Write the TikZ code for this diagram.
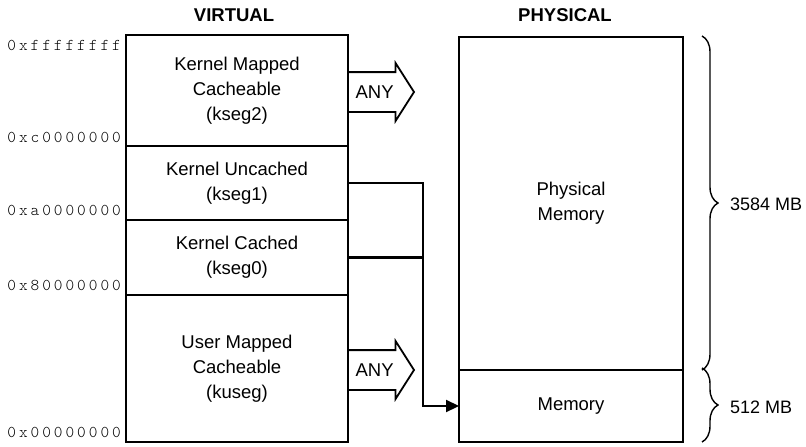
\documentclass[tikz,border=0pt]{standalone}
\usepackage{fontspec}
\setmainfont{Liberation Sans}
\newfontfamily\addrfont[LetterSpace=18]{Latin Modern Mono Light}
\usetikzlibrary{shapes.arrows,arrows.meta,decorations.pathreplacing}
\begin{document}
\begin{tikzpicture}[x=1pt,y=-1pt,
  txt/.style={font=\fontsize{18.5}{25}\selectfont, align=center},
  seg/.style={draw, line width=2pt, inner sep=0pt, outer sep=0pt, anchor=north west, txt},
  addr/.style={font=\addrfont\fontsize{16.5}{16.5}\selectfont, anchor=east, inner sep=0pt},
  anyarrow/.style={single arrow, draw, line width=1.8pt, txt, text height=13pt, text depth=0pt,
    inner ysep=12.5pt, inner xsep=5pt, single arrow head extend=9pt, single arrow head indent=0pt,
    single arrow tip angle=115, minimum height=66pt, anchor=tail, outer sep=0pt},
  conn/.style={line width=2.2pt},
  bracestyle/.style={decorate, decoration={brace, amplitude=16pt}, line width=1.4pt},
  title/.style={font=\bfseries\fontsize{18.5}{20}\selectfont}
]
\useasboundingbox (0,0) rectangle (806,447);
% titles
\node[title] (vt) at (234,15) {VIRTUAL};
\node[title] (pt) at (565,15) {PHYSICAL};
% virtual segments
\node[seg, minimum width=222pt, minimum height=111pt] (kseg2) at (126,35) {Kernel Mapped\\Cacheable\\(kseg2)};
\node[seg, minimum width=222pt, minimum height=74pt] (kseg1) at (126,146) {Kernel Uncached\\(kseg1)};
\node[seg, minimum width=222pt, minimum height=75pt] (kseg0) at (126,220) {Kernel Cached\\(kseg0)};
\node[seg, minimum width=222pt, minimum height=147pt] (kuseg) at (126,295) {User Mapped\\Cacheable\\(kuseg)};
% physical
\node[seg, minimum width=224pt, minimum height=333pt] (phys) at (459,37) {Physical\\Memory};
\node[seg, minimum width=224pt, minimum height=72pt] (mem) at (459,370) {Memory};
% addresses
\node[addr] (a1) at (121,45) {0xffffffff};
\node[addr] (a2) at (121,137) {0xc0000000};
\node[addr] (a3) at (121,210) {0xa0000000};
\node[addr] (a4) at (121,285) {0x80000000};
\node[addr] (a5) at (121,432) {0x00000000};
% ANY arrows
\node[anyarrow] (any1) at (kseg2.east |- 0,92) {ANY};
\node[anyarrow] (any2) at (kuseg.east |- 0,370) {ANY};
% connectors
\coordinate (bend) at (423,406);
\draw[conn, -{Triangle[length=13pt,width=12pt]}] (kseg1.east) -| (bend) -- (mem.west);
\draw[conn] (kseg0.east) -- (kseg0.east -| bend);
% braces
\draw[bracestyle] ([xshift=19pt,yshift=1pt]phys.north east) -- ([xshift=19pt]phys.south east);
\draw[bracestyle] ([xshift=19pt,yshift=2pt]mem.north east) -- ([xshift=19pt]mem.south east);
\node[txt, font=\fontsize{18}{20}\selectfont, anchor=west, inner sep=0pt] (s1) at (730,204) {3584 MB};
\node[txt, font=\fontsize{18}{20}\selectfont, anchor=west, inner sep=0pt] (s2) at (730,407) {512 MB};
\end{tikzpicture}
\end{document}
